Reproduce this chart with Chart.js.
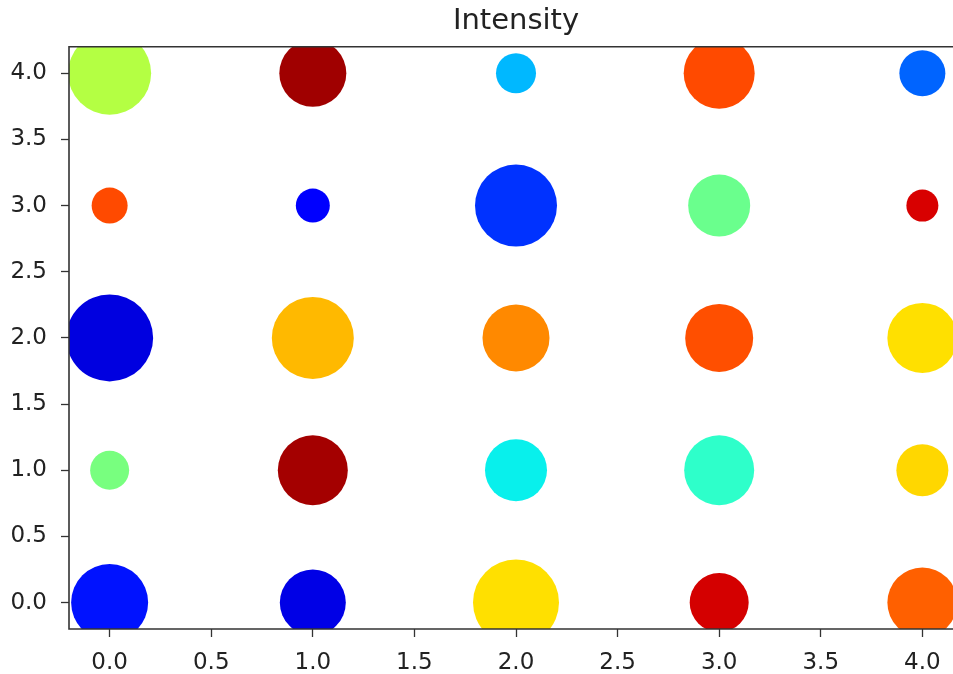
<!DOCTYPE html>
<html>
<head>
<meta charset="utf-8">
<script src="https://cdn.jsdelivr.net/npm/chart.js@4.4.1/dist/chart.umd.min.js"></script>
<style>
  html, body { margin: 0; padding: 0; background: #fff; overflow: hidden; }
  #wrap { width: 1000px; height: 674px; }
</style>
</head>
<body>
<div id="wrap"><canvas id="intensityChart" width="1000" height="674"></canvas></div>
<script>
// 좌표 (5x5 격자)
const pointX = [0, 1, 2, 3, 4, 0, 1, 2, 3, 4, 0, 1, 2, 3, 4, 0, 1, 2, 3, 4, 0, 1, 2, 3, 4];
const pointY = [4, 4, 4, 4, 4, 3, 3, 3, 3, 3, 2, 2, 2, 2, 2, 1, 1, 1, 1, 1, 0, 0, 0, 0, 0];
// 원 반지름 (px)
const sizes = [
  41.5, 33.5, 20, 35.5, 23,
  18, 17, 41, 31, 16,
  43.5, 41, 33.5, 34, 35,
  19.5, 35, 31, 35, 26,
  38.5, 33, 43, 29.5, 35
];
// 색상 (jet 컬러맵에서 읽은 값)
const colors = [
  "#b4ff43", "#a00000", "#00b8ff", "#ff4a00", "#0064ff",
  "#ff4a00", "#0000ff", "#0032ff", "#6aff8d", "#d80000",
  "#0000e0", "#ffb900", "#ff8900", "#ff4f00", "#ffe000",
  "#78ff7f", "#a40000", "#08f0ec", "#2effca", "#ffd700",
  "#0012ff", "#0000e6", "#ffe000", "#d40000", "#ff6000"
];
const xTicks = [0, 0.5, 1, 1.5, 2, 2.5, 3, 3.5, 4];
const yTicks = [0, 0.5, 1, 1.5, 2, 2.5, 3, 3.5, 4];

const points = pointX.map(function (x, i) {
  return { x: x, y: pointY[i], r: sizes[i] };
});

// 버블 반지름만큼 여백을 잡지 않도록 (원은 플롯 영역에서 잘림)
const BubbleCtrl = Chart.registry.getController("bubble");
BubbleCtrl.prototype.getMaxOverflow = function () { return false; };

// 축 테두리 (왼쪽/위/아래, 오른쪽은 화면 밖)
const frame = {
  id: "frame",
  afterDatasetsDraw: function (chart) {
    const a = chart.chartArea;
    const ctx = chart.ctx;
    ctx.save();
    ctx.strokeStyle = "#333";
    ctx.lineWidth = 1.6;
    ctx.beginPath();
    ctx.moveTo(a.right + 5, a.top);
    ctx.lineTo(a.left, a.top);
    ctx.lineTo(a.left, a.bottom);
    ctx.lineTo(a.right + 5, a.bottom);
    ctx.stroke();
    ctx.restore();
  }
};

const tickFont = { family: "DejaVu Sans", size: 23 };

new Chart(document.getElementById("intensityChart"), {
  type: "bubble",
  data: {
    datasets: [{
      data: points,
      backgroundColor: colors,
      borderWidth: 0,
      hoverBorderWidth: 0,
      clip: 0
    }]
  },
  options: {
    responsive: false,
    animation: false,
    layout: { padding: { left: 0, right: 37, top: 0, bottom: 0 } },
    plugins: {
      legend: { display: false },
      tooltip: { enabled: false },
      title: {
        display: true,
        text: "Intensity",
        fullSize: false,
        color: "#222",
        font: { family: "DejaVu Sans", size: 29, weight: "normal", lineHeight: 1.2 },
        padding: { top: 4, bottom: 8 }
      }
    },
    scales: {
      x: {
        type: "linear",
        min: -0.2,
        max: 4.2,
        afterBuildTicks: function (scale) {
          scale.ticks = xTicks.map(function (v) { return { value: v }; });
        },
        afterFit: function (scale) {
          scale.height = 45;
          scale.paddingLeft = 0;
          scale.paddingRight = 0;
        },
        ticks: {
          color: "#222",
          font: tickFont,
          padding: 12,
          maxRotation: 0,
          autoSkip: false,
          callback: function (v) { return Number(v).toFixed(1); }
        },
        grid: { drawOnChartArea: false, tickLength: 8, tickColor: "#333", tickWidth: 1.3 },
        border: { display: false }
      },
      y: {
        type: "linear",
        min: -0.2,
        max: 4.2,
        afterBuildTicks: function (scale) {
          scale.ticks = yTicks.map(function (v) { return { value: v }; });
        },
        afterFit: function (scale) { scale.width = 69; },
        ticks: {
          color: "#222",
          font: tickFont,
          padding: 14,
          autoSkip: false,
          callback: function (v) { return Number(v).toFixed(1); }
        },
        grid: { drawOnChartArea: false, tickLength: 8, tickColor: "#333", tickWidth: 1.3 },
        border: { display: false }
      }
    }
  },
  plugins: [frame]
});
</script>
</body>
</html>
